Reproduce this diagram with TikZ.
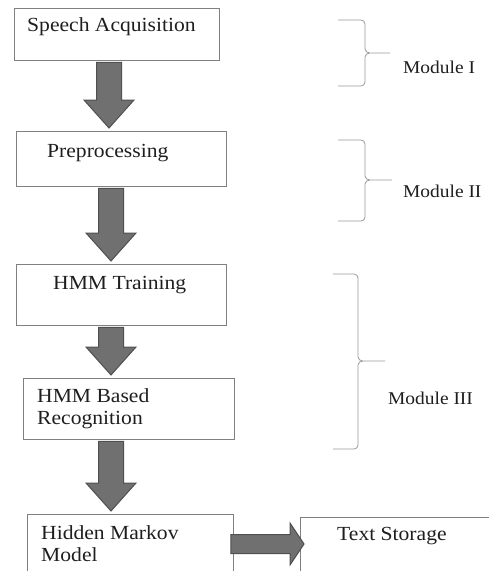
\documentclass[tikz,border=0pt]{standalone}
\usepackage{fontspec}
\setmainfont[FakeStretch=1.08]{Liberation Serif}
\usetikzlibrary{calc}
\definecolor{StageEdge}{HTML}{808080}
\definecolor{StageText}{HTML}{1E1E1E}
\definecolor{BraceEdge}{HTML}{9A9A9A}
\definecolor{ArrowFill}{HTML}{707070}
\definecolor{ArrowEdge}{HTML}{505050}

\begin{document}
\begin{tikzpicture}[x=1pt,y=-1pt,
    stage/.style={draw=StageEdge,line width=0.9pt,anchor=north west,
      inner sep=0pt},
    caption/.style={anchor=base west,inner sep=0pt,align=left,
      text=StageText,font=\fontsize{20}{22}\selectfont},
    modname/.style={anchor=base west,inner sep=0pt,
      text=StageText,font=\fontsize{18}{20}\selectfont},
    bracket/.style={draw=BraceEdge,line width=0.8pt},
    fatdown/.style={fill=ArrowFill,draw=ArrowEdge,line width=1pt,
      to path={let \p1=(\tikztostart),\p2=(\tikztotarget) in
        (\x1-12.5pt,\y1-1.5pt) -- (\x1+12.5pt,\y1-1.5pt)
        -- (\x1+12.5pt,\y2+31pt) -- (\x1+25pt,\y2+31pt)
        -- (\x1,\y2+3pt)
        -- (\x1-25pt,\y2+31pt) -- (\x1-12.5pt,\y2+31pt) -- cycle}},
    fatright/.style={fill=ArrowFill,draw=ArrowEdge,line width=1pt,
      to path={let \p1=(\tikztostart),\p2=(\tikztotarget) in
        (\x1-3pt,\y1+9.5pt) -- (\x2-10pt,\y1+9.5pt)
        -- (\x2-10pt,\y1+21pt) -- (\x2+4pt,\y1)
        -- (\x2-10pt,\y1-21pt) -- (\x2-10pt,\y1-9.5pt)
        -- (\x1-3pt,\y1-9.5pt) -- cycle}}]

  \clip (0,0) rectangle (489,571);

  % stages
  \node[stage,minimum width=205pt,minimum height=52pt] (acq) at (14,8) {};
  \node[caption] (acqtext) at ([shift={(13,23)}]acq.north west)
    {Speech Acquisition};

  \node[stage,minimum width=210pt,minimum height=55pt] (prep) at (16,131) {};
  \node[caption] (preptext) at ([shift={(31,26)}]prep.north west)
    {Preprocessing};

  \node[stage,minimum width=210pt,minimum height=61pt] (train) at (16,264) {};
  \node[caption] (traintext) at ([shift={(37,25)}]train.north west)
    {HMM Training};

  \node[stage,minimum width=211pt,minimum height=61pt] (recog) at (23,378) {};
  \node[caption,anchor=north west] (recogtext)
    at ([shift={(14,10)}]recog.north west)
    {HMM Based\\Recognition};

  \node[stage,minimum width=206pt,minimum height=80pt] (model) at (27,514) {};
  \node[caption,anchor=north west] (modeltext)
    at ([shift={(14,11)}]model.north west)
    {Hidden Markov\\Model};

  \node[stage,minimum width=220pt,minimum height=80pt] (store) at (300,517) {};
  \node[caption] (storetext) at ([shift={(37,23)}]store.north west)
    {Text Storage};

  % block arrows
  \coordinate (spine) at (111,0);
  \coordinate (lane) at (0,544);

  \path[fatdown] ([xshift=-2pt]acq.south -| spine) to (prep.north -| spine);
  \path[fatdown] (prep.south -| spine) to (train.north -| spine);
  \path[fatdown] (train.south -| spine) to (recog.north -| spine);
  \path[fatdown] (recog.south -| spine) to (model.north -| spine);
  \path[fatright] (model.east |- lane) to (store.west |- lane);

  % module brackets
  \foreach \ya/\ym/\yb/\xa/\xb/\xc in
      {20/53/86/338/365/390,140/180/221/338/365/392,274/361/449/333/358/385}
    \draw[bracket] (\xa,\ya) -- (\xb-4,\ya) to[out=0,in=90] (\xb,\ya+4)
      -- (\xb,\ym-4) to[out=-90,in=180] (\xb+5,\ym) -- (\xc,\ym)
      (\xb+5,\ym) to[out=180,in=90] (\xb,\ym+4)
      -- (\xb,\yb-4) to[out=-90,in=0] (\xb-4,\yb) -- (\xa,\yb);

  \node[modname] (modI) at (403,73) {Module I};
  \node[modname] (modII) at (403,197) {Module II};
  \node[modname] (modIII) at (388,404) {Module III};

\end{tikzpicture}
\end{document}
